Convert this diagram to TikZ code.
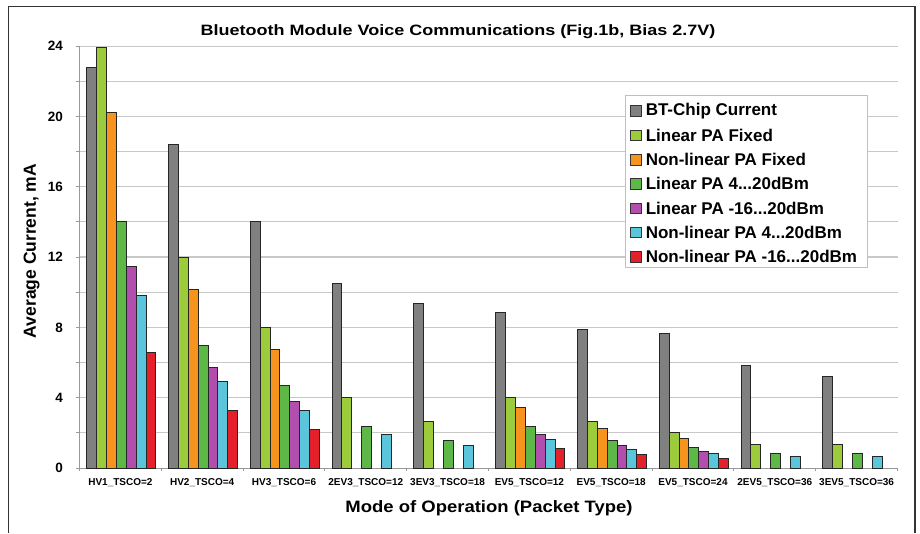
\documentclass[tikz,border=0pt]{standalone}
\usepackage{fontspec}
\setmainfont{Liberation Sans}
\usetikzlibrary{positioning}

\definecolor{bar0}{HTML}{808080}
\definecolor{bar1}{HTML}{9CCB3B}
\definecolor{bar2}{HTML}{F7941D}
\definecolor{bar3}{HTML}{5DB848}
\definecolor{bar4}{HTML}{B24FAE}
\definecolor{bar5}{HTML}{5BC6DB}
\definecolor{bar6}{HTML}{E4202A}
\definecolor{gridgray}{HTML}{C8C8C8}

\newcommand{\thedots}{{.}{.}{.}}

\tikzset{
  gridline/.style={draw=gridgray, line width=1.1pt},
  axisline/.style={draw=black!40, line width=0.9pt},
  barbox/.style={draw=black!85, line width=0.8pt},
  ticklbl/.style={font=\bfseries\fontsize{10}{12}\selectfont, anchor=north, inner sep=1pt},
  vallbl/.style={font=\bfseries\fontsize{13.5}{15}\selectfont, anchor=east, inner sep=1pt},
  axislbl/.style={font=\bfseries\fontsize{16.5}{18}\selectfont},
  titletext/.style={font=\bfseries\fontsize{15}{17}\selectfont, xscale=1.2},
  swatch/.style={draw=black!80, line width=0.6pt, minimum size=10.5pt, inner sep=0pt},
  legtext/.style={font=\bfseries\fontsize{17}{19}\selectfont, inner sep=1pt}
}

\begin{document}
\begin{tikzpicture}[x=1pt, y=1pt]
\useasboundingbox (0,0) rectangle (920,533);

    % Frame
    \draw[line width=1.4pt, black!80] (8.3,0) -- (8.3,526.5) -- (915,526.5) -- (915,0);

    % Title
    \node[titletext] (title) at (458,501.5)
        {Bluetooth Module Voice Communications (Fig.1b, Bias 2.7V)};

    % Axis titles
    \node[axislbl, xscale=1.12] (xlabel) at (489,25) {Mode of Operation (Packet Type)};
    \node[axislbl, rotate=90, font=\bfseries\fontsize{17.5}{19}\selectfont] (ylabel) at (31.5,282)
        {Average Current, mA};

    \begin{scope}[shift={(79.5,65)}, y=17.58pt]

        % Grid
        \foreach \g in {2,4,...,24}
            \draw[gridline] (0,\g) -- (818,\g);

        % Axes
        \draw[axisline] (0,0) -- (0,24);
        \draw[axisline] (0,0) -- (818,0);
        \foreach \g in {0,2,...,24}
            \draw[axisline] (-4,\g) -- (0,\g);
        \foreach \c in {0,...,10}
            \draw[axisline] ({\c*81.8},0) -- ++(0,-3pt);

        % Value labels
        \foreach \g in {0,4,...,24}
            \node[vallbl] (val\g) at (-15.5,\g) {\g};

        % Bars
        \foreach \vals [count=\c from 0] in {
            {22.8,23.95,20.2,14.0,11.45,9.8,6.6},
            {18.4,12.0,10.15,6.95,5.75,4.9,3.3},
            {14.0,8.0,6.75,4.7,3.8,3.25,2.2},
            {10.5,4.0,0,2.35,0,1.93,0},
            {9.35,2.67,0,1.55,0,1.3,0},
            {8.83,4.0,3.43,2.35,1.91,1.65,1.12},
            {7.87,2.67,2.25,1.55,1.29,1.06,0.78},
            {7.66,2.05,1.71,1.18,0.97,0.83,0.53},
            {5.86,1.34,0,0.83,0,0.64,0},
            {5.2,1.34,0,0.83,0,0.64,0}} {
            \foreach \v [count=\s from 0] in \vals {
                \ifdim \v pt>0pt
                    \draw[barbox, fill=bar\s] ({\c*81.8+7+\s*9.9},0) rectangle ++(9.9,\v);
                \fi
            }
        }

        % Category labels
        \foreach \name [count=\c from 0] in {HV1\_TSCO=2, HV2\_TSCO=4, HV3\_TSCO=6,
            2EV3\_TSCO=12, 3EV3\_TSCO=18, EV5\_TSCO=12, EV5\_TSCO=18,
            EV5\_TSCO=24, 2EV5\_TSCO=36, 3EV5\_TSCO=36}
            \node[ticklbl] (cat\c) at ({\c*81.8+40.9},0) [yshift=-9pt] {\name};

    \end{scope}

    % Legend
    \draw[draw=black!25, line width=0.8pt, fill=white] (625,265.7) rectangle (867.7,437.3);
    \foreach \txt [count=\i from 0] in {BT-Chip Current, Linear PA Fixed,
        Non-linear PA Fixed, Linear PA 4\thedots20dBm, Linear PA -16\thedots20dBm,
        Non-linear PA 4\thedots20dBm, Non-linear PA -16\thedots20dBm} {
        \node[swatch, fill=bar\i] (sw\i) at (636,422-\i*24.3) {};
        \node[legtext, right=3pt of sw\i] (lt\i) {\txt};
    }

\end{tikzpicture}
\end{document}
